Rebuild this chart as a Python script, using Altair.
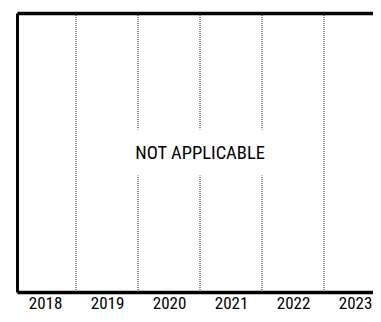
import altair as alt
import pandas as pd

years = [2018, 2019, 2020, 2021, 2022, 2023]
boundaries = [y + 0.5 for y in years[:-1]]
message = ["NOT APPLICABLE"]
msg_x = [sum(years) / len(years)]
msg_y = [0.5]

FONT = "'Liberation Sans Narrow', 'Arial Narrow', 'Roboto Condensed', 'DejaVu Sans Condensed', Roboto, sans-serif"

# 62 px per year, plot starts at page x = 17
xscale = alt.Scale(domain=[2017.548, 2023.29], nice=False, zero=False)
yscale = alt.Scale(domain=[0, 1], nice=False, zero=False)

bdf = pd.DataFrame({"b": boundaries})
mdf = pd.DataFrame({"x": msg_x, "y": msg_y, "t": message})

bottom_axis = alt.Axis(
    values=years, format="d", title=None, grid=False, ticks=False,
    domain=True, domainColor="black", domainWidth=3.5,
    labelFont=FONT, labelFontSize=17, labelColor="black", labelPadding=3,
    labelFlush=False, labelOverlap=False,
)
top_axis = alt.Axis(
    orient="top", title=None, grid=False, ticks=False, labels=False,
    domain=True, domainColor="black", domainWidth=3.5,
)
left_axis = alt.Axis(
    orient="left", title=None, grid=False, ticks=False, labels=False,
    domain=True, domainColor="black", domainWidth=3,
)

rules = alt.Chart(bdf).mark_rule(color="#222222", strokeWidth=1, strokeDash=[1, 1]).encode(
    x=alt.X("b:Q", scale=xscale, axis=bottom_axis)
)

box = alt.Chart(mdf).mark_rect(color="white", width=136, height=46).encode(
    x=alt.X("x:Q", scale=xscale, axis=top_axis),
    y=alt.Y("y:Q", scale=yscale, axis=left_axis),
)

text = alt.Chart(mdf).mark_text(
    font=FONT, fontSize=18.5, color="black", align="center", baseline="middle"
).encode(
    x=alt.X("x:Q", scale=xscale, axis=None),
    y=alt.Y("y:Q", scale=yscale, axis=left_axis),
    text="t:N",
)

chart = (
    alt.layer(rules, box, text)
    .resolve_axis(x="independent")
    .properties(
        width=356, height=279,
        padding={"left": 9, "top": 5, "right": 0, "bottom": 22},
        autosize=alt.AutoSizeParams(type="none"),
    )
    .configure_view(stroke=None)
)

chart.save("out.html", embed_options={"renderer": "svg", "actions": False})
